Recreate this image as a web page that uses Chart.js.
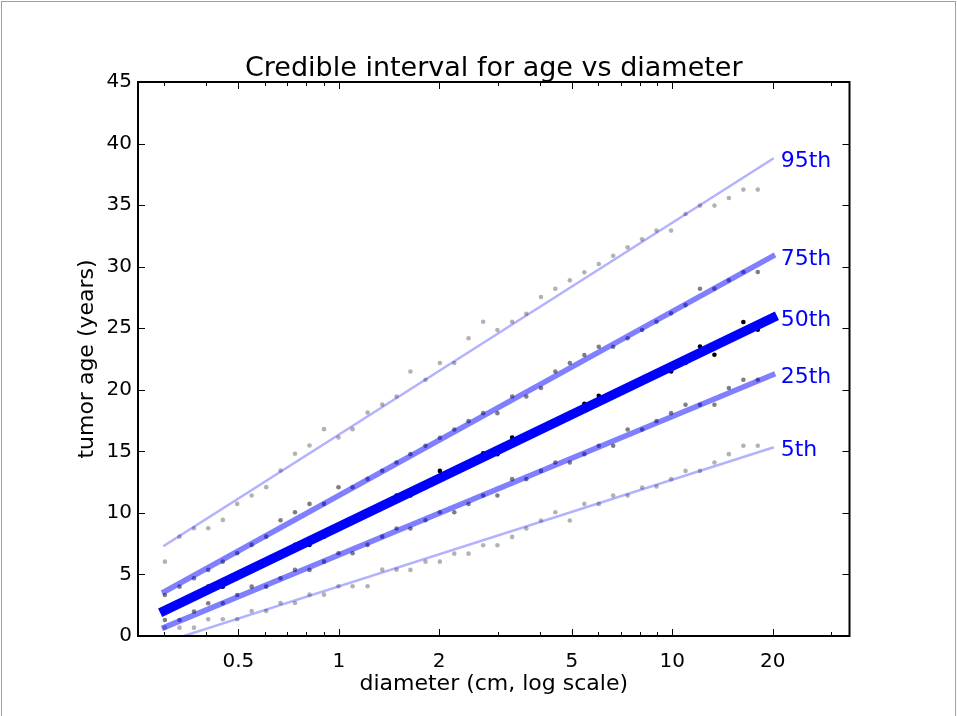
<!DOCTYPE html>
<html>
<head>
<meta charset="utf-8">
<title>Credible interval for age vs diameter</title>
<script src="https://cdn.jsdelivr.net/npm/chart.js@4.4.1/dist/chart.umd.min.js"></script>
<style>
    html, body { margin: 0; padding: 0; background: #fff; }
    #wrap { width: 957px; height: 716px; }
</style>
</head>
<body>
<div id="wrap"><canvas id="ageChart" width="957" height="716"></canvas></div>
<script>
'use strict';

// ── Data ──────────────────────────────────────────────────────────────────────

// tumour diameter buckets (cm)
const DIAMETERS = [
    0.301, 0.333, 0.368, 0.406, 0.449, 0.496, 0.548, 0.606, 0.669, 0.739,
    0.817, 0.903, 0.998, 1.10, 1.22, 1.35, 1.49, 1.64, 1.82, 2.01,
    2.22, 2.45, 2.71, 2.99, 3.31, 3.65, 4.04, 4.46, 4.93, 5.45,
    6.02, 6.65, 7.35, 8.12, 8.97, 9.92, 10.96, 12.11, 13.38, 14.78,
    16.34, 18.05,
];

// simulated age percentiles per bucket (years)
const AGE_P95 = [
    6.04, 8.07, 8.75, 8.75, 9.43, 10.73, 11.41, 12.09, 13.44, 14.80,
    15.47, 16.80, 16.12, 16.80, 18.16, 18.81, 19.46, 21.49, 20.81, 22.17,
    22.17, 24.18, 25.53, 24.85, 25.53, 26.18, 27.54, 28.21, 28.89, 29.54,
    30.22, 30.89, 31.57, 32.22, 32.93, 32.93, 34.28, 34.96, 34.96, 35.58,
    36.26, 36.26,
];
const AGE_P75 = [
    3.33, 4.01, 4.69, 5.37, 6.04, 6.72, 7.40, 8.07, 9.40, 10.05,
    10.73, 10.73, 12.08, 12.08, 12.76, 13.42, 14.09, 14.77, 15.45, 16.10,
    16.77, 17.45, 18.10, 18.10, 19.46, 19.46, 20.14, 21.49, 22.17, 22.82,
    23.50, 23.50, 24.18, 24.85, 25.53, 26.21, 26.88, 28.21, 28.21, 28.89,
    29.57, 29.57,
];
const AGE_P50 = [
    2.03, 2.71, 3.39, 4.01, 4.01, 4.69, 5.37, 6.04, 6.72, 7.40,
    7.40, 8.07, 8.75, 9.43, 10.05, 10.73, 11.41, 11.41, 12.09, 13.41,
    13.44, 14.10, 14.85, 14.77, 16.12, 16.10, 16.80, 17.45, 18.10, 18.86,
    19.51, 19.50, 20.14, 20.80, 21.49, 21.49, 22.17, 23.52, 22.85, 24.20,
    25.50, 24.88,
];
const AGE_P25 = [
    1.30, 1.30, 1.98, 2.66, 2.66, 3.33, 4.01, 4.01, 4.69, 5.37,
    5.37, 6.04, 6.72, 6.72, 7.40, 8.07, 8.73, 8.73, 9.40, 10.05,
    10.05, 10.73, 11.41, 11.41, 12.74, 12.74, 13.41, 14.09, 14.09, 14.77,
    15.45, 15.45, 16.77, 16.77, 17.45, 18.10, 18.78, 18.78, 18.78, 20.14,
    20.81, 20.81,
];
const AGE_P5 = [
    0.68, 0.68, 0.68, 1.36, 1.36, 1.36, 2.03, 2.03, 2.68, 2.68,
    3.36, 3.36, 4.04, 4.04, 4.04, 5.39, 5.39, 5.37, 6.04, 6.04,
    6.69, 6.69, 7.37, 7.37, 8.05, 8.73, 9.38, 10.05, 9.38, 10.73,
    10.73, 11.41, 11.41, 12.06, 12.14, 12.74, 13.41, 13.41, 14.09, 14.77,
    15.45, 15.45,
];

// fitted lines: endpoints only (straight on a log-x axis)
const FIT_X = [0.3, 20];
const FIT_P95 = [7.35, 38.75];
const FIT_P75 = [3.6, 30.85];
const FIT_P50 = [2.05, 25.85];
const FIT_P25 = [0.7, 21.22];
const FIT_P5 = [-0.5, 15.3];

const PERCENTILE_LABELS = ['95th', '75th', '50th', '25th', '5th'];

const X_TICKS = [0.5, 1, 2, 5, 10, 20];
const X_MINOR_TICKS = [0.3, 0.4, 0.6, 0.7, 0.8, 0.9, 3, 4, 6, 7, 8, 9, 30];
const Y_TICKS = [0, 5, 10, 15, 20, 25, 30, 35, 40, 45];

// ── Styling ───────────────────────────────────────────────────────────────────

const FONT = "'DejaVu Sans', sans-serif";
const BLUE = '#0000ff';
const MAJOR_TICK = 7;
const MINOR_TICK = 4;
const LABEL_GAP = 8;
const LABEL_DROP = 8.5;   // baseline below the line end

Chart.defaults.font.family = FONT;
Chart.defaults.color = '#000';

function toPoints(xs, ys) {
    return xs.map((x, i) => ({ x, y: ys[i] }));
}

function dots(ys, alpha) {
    return {
        data: toPoints(DIAMETERS, ys),
        showLine: false,
        pointRadius: 2.3,
        pointBorderWidth: 0,
        pointBackgroundColor: `rgba(0,0,0,${alpha})`,
        order: 1,
    };
}

function fitLine(ys, alpha, width) {
    return {
        data: toPoints(FIT_X, ys),
        showLine: true,
        pointRadius: 0,
        borderWidth: width,
        borderColor: `rgba(0,0,255,${alpha})`,
        borderCapStyle: 'square',
        tension: 0,
        fill: false,
        clip: 0,
        order: 0,
    };
}

// ── Plugins ───────────────────────────────────────────────────────────────────

const axesFrame = {
    id: 'axesFrame',
    afterDatasetsDraw(chart) {
        const { ctx, chartArea: a, scales: { x, y } } = chart;
        ctx.save();
        ctx.strokeStyle = '#000';
        ctx.lineWidth = 1;
        ctx.beginPath();
        const xTick = (v, len) => {
            const px = Math.round(x.getPixelForValue(v)) + 0.5;
            if (px < a.left || px > a.right) return;
            ctx.moveTo(px, a.bottom); ctx.lineTo(px, a.bottom - len);
            ctx.moveTo(px, a.top); ctx.lineTo(px, a.top + len);
        };
        X_TICKS.forEach(v => xTick(v, MAJOR_TICK));
        X_MINOR_TICKS.forEach(v => xTick(v, MINOR_TICK));
        Y_TICKS.forEach(v => {
            const py = Math.round(y.getPixelForValue(v)) + 0.5;
            ctx.moveTo(a.left, py); ctx.lineTo(a.left + MAJOR_TICK, py);
            ctx.moveTo(a.right, py); ctx.lineTo(a.right - MAJOR_TICK, py);
        });
        ctx.stroke();
        ctx.lineWidth = 2;
        ctx.strokeRect(a.left, a.top, a.right - a.left, a.bottom - a.top);
        ctx.restore();
    },
};

const percentileLabels = {
    id: 'percentileLabels',
    afterDatasetsDraw(chart) {
        const { ctx, scales: { x, y } } = chart;
        const fits = [FIT_P95, FIT_P75, FIT_P50, FIT_P25, FIT_P5];
        ctx.save();
        ctx.fillStyle = BLUE;
        ctx.font = `22px ${FONT}`;
        ctx.textAlign = 'left';
        ctx.textBaseline = 'alphabetic';
        fits.forEach((ys, i) => {
            const px = x.getPixelForValue(FIT_X[FIT_X.length - 1]) + LABEL_GAP;
            const py = y.getPixelForValue(ys[ys.length - 1]) + LABEL_DROP;
            ctx.fillText(PERCENTILE_LABELS[i], px, py);
        });
        ctx.restore();
    },
};

const figureBorder = {
    id: 'figureBorder',
    afterDraw(chart) {
        const { ctx } = chart;
        ctx.save();
        ctx.strokeStyle = '#a0a0a0';
        ctx.lineWidth = 1;
        ctx.strokeRect(1.5, 1.5, chart.width - 3, chart.height + 10);
        ctx.restore();
    },
};

// ── Chart ─────────────────────────────────────────────────────────────────────

function renderChart() {
    const ctx = document.getElementById('ageChart').getContext('2d');
    new Chart(ctx, {
        type: 'scatter',
        data: {
            datasets: [
                fitLine(FIT_P95, 0.3, 2.5),
                fitLine(FIT_P75, 0.5, 5.5),
                fitLine(FIT_P50, 1, 9.5),
                fitLine(FIT_P25, 0.5, 5.5),
                fitLine(FIT_P5, 0.3, 2.5),
                dots(AGE_P95, 0.3),
                dots(AGE_P75, 0.5),
                dots(AGE_P50, 1),
                dots(AGE_P25, 0.5),
                dots(AGE_P5, 0.3),
            ],
        },
        options: {
            responsive: false,
            animation: false,
            events: [],
            layout: { padding: { top: 0, right: 107.5, bottom: 0, left: 0 } },
            plugins: {
                legend: { display: false },
                tooltip: { enabled: false },
                title: {
                    display: true,
                    text: 'Credible interval for age vs diameter',
                    fullSize: false,
                    color: '#000',
                    font: { size: 27, weight: 'normal', lineHeight: 1 },
                    padding: { top: 55, bottom: 0 },
                },
            },
            scales: {
                x: {
                    type: 'logarithmic',
                    position: 'bottom',
                    min: 0.25,
                    max: 34,
                    afterBuildTicks(scale) {
                        scale.ticks = X_TICKS.map(v => ({ value: v }));
                    },
                    afterFit(scale) { scale.height = 80; },
                    grid: { display: false, drawTicks: false },
                    border: { display: false },
                    ticks: {
                        autoSkip: false,
                        maxRotation: 0,
                        minRotation: 0,
                        padding: 14,
                        color: '#000',
                        font: { size: 20 },
                        callback: v => String(v),
                    },
                    title: {
                        display: true,
                        text: 'diameter (cm, log scale)',
                        color: '#000',
                        font: { size: 22 },
                        padding: { top: 0, bottom: 19 },
                    },
                },
                y: {
                    type: 'linear',
                    min: 0,
                    max: 45,
                    afterBuildTicks(scale) {
                        scale.ticks = Y_TICKS.map(v => ({ value: v }));
                    },
                    afterFit(scale) { scale.width = 138; },
                    grid: { display: false, drawTicks: false },
                    border: { display: false },
                    ticks: {
                        padding: 6,
                        color: '#000',
                        font: { size: 20 },
                    },
                    title: {
                        display: true,
                        text: 'tumor age (years)',
                        color: '#000',
                        font: { size: 22 },
                        padding: { top: 74, bottom: 0 },
                    },
                },
            },
        },
        plugins: [axesFrame, percentileLabels, figureBorder],
    });
}

document.addEventListener('DOMContentLoaded', renderChart);
</script>
</body>
</html>
